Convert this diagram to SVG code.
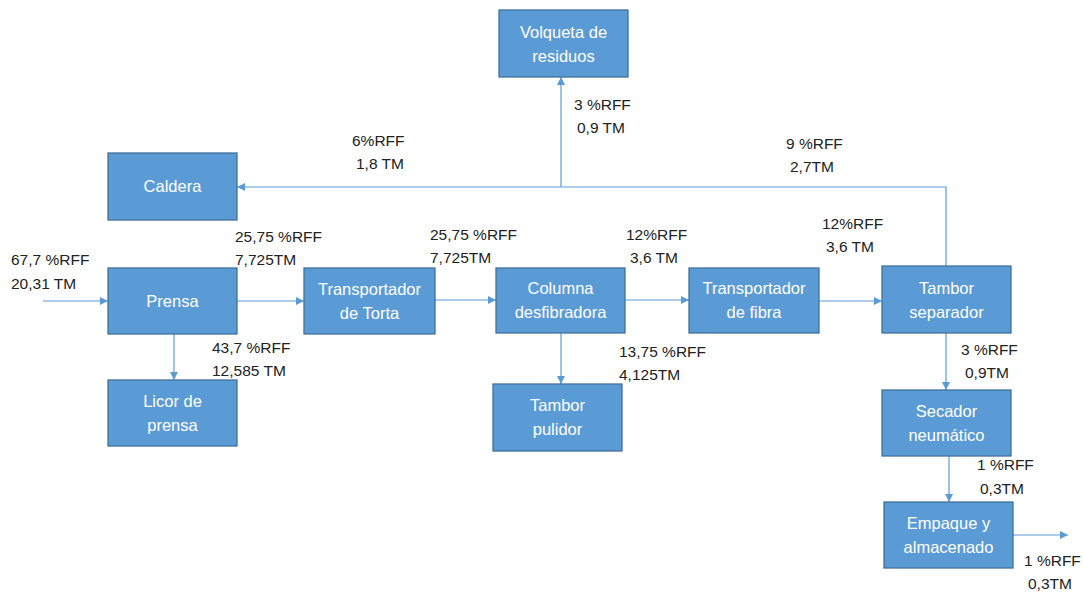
<svg xmlns="http://www.w3.org/2000/svg" width="1083" height="595" viewBox="0 0 1083 595">
<defs>
<style>
.box{fill:#5B9BD5;stroke:#41719C;stroke-width:1.3}
.bt{font-family:"Liberation Sans",Arial,sans-serif;font-size:16.5px;fill:#FFFFFF;text-anchor:middle}
.lb{font-family:"Liberation Sans",Arial,sans-serif;font-size:15.5px;fill:#222222}
.cn{fill:none;stroke:#5B9BD5;stroke-width:1.2}
</style>
<marker id="ah" viewBox="0 0 10 10" refX="10" refY="5" markerWidth="8" markerHeight="8" markerUnits="userSpaceOnUse" orient="auto">
<path d="M0,0 L10,5 L0,10 z" fill="#5B9BD5"/>
</marker>
</defs>
<rect width="1083" height="595" fill="#FFFFFF"/>
<g id="connectors">
<line class="cn" x1="43" y1="301" x2="108" y2="301" marker-end="url(#ah)"/>
<line class="cn" x1="237" y1="301" x2="304" y2="301" marker-end="url(#ah)"/>
<line class="cn" x1="435" y1="300" x2="496" y2="300" marker-end="url(#ah)"/>
<line class="cn" x1="625" y1="300" x2="689" y2="300" marker-end="url(#ah)"/>
<line class="cn" x1="819" y1="301" x2="882" y2="301" marker-end="url(#ah)"/>
<line class="cn" x1="174" y1="334" x2="174" y2="380" marker-end="url(#ah)"/>
<line class="cn" x1="561" y1="333" x2="561" y2="384" marker-end="url(#ah)"/>
<polyline class="cn" points="946,266 946,187 237,187" marker-end="url(#ah)"/>
<line class="cn" x1="561" y1="187" x2="561" y2="77" marker-end="url(#ah)"/>
<line class="cn" x1="946" y1="333" x2="946" y2="390" marker-end="url(#ah)"/>
<line class="cn" x1="949" y1="456" x2="949" y2="502" marker-end="url(#ah)"/>
<line class="cn" x1="1013" y1="535" x2="1068" y2="535" marker-end="url(#ah)"/>
</g>
<g id="volqueta"><rect class="box" x="499" y="10" width="129" height="67"/><text class="bt" x="563.5" y="38">Volqueta de</text><text class="bt" x="563.5" y="62">residuos</text></g>
<g id="caldera"><rect class="box" x="108" y="153" width="129" height="67"/><text class="bt" x="172.5" y="192">Caldera</text></g>
<g id="prensa"><rect class="box" x="108" y="268" width="129" height="66"/><text class="bt" x="172.5" y="307">Prensa</text></g>
<g id="transp-torta"><rect class="box" x="304" y="268" width="131" height="66"/><text class="bt" x="369.5" y="295">Transportador</text><text class="bt" x="369.5" y="319">de Torta</text></g>
<g id="licor"><rect class="box" x="108" y="380" width="129" height="66"/><text class="bt" x="172.5" y="407">Licor de</text><text class="bt" x="172.5" y="431">prensa</text></g>
<g id="columna"><rect class="box" x="496" y="268" width="129" height="65"/><text class="bt" x="560.5" y="294">Columna</text><text class="bt" x="560.5" y="318">desfibradora</text></g>
<g id="transp-fibra"><rect class="box" x="689" y="268" width="130" height="65"/><text class="bt" x="754" y="294">Transportador</text><text class="bt" x="754" y="318">de fibra</text></g>
<g id="tambor-pulidor"><rect class="box" x="493" y="384" width="129" height="67"/><text class="bt" x="557.5" y="411">Tambor</text><text class="bt" x="557.5" y="435">pulidor</text></g>
<g id="tambor-separador"><rect class="box" x="882" y="266" width="129" height="67"/><text class="bt" x="946.5" y="294">Tambor</text><text class="bt" x="946.5" y="318">separador</text></g>
<g id="secador"><rect class="box" x="882" y="390" width="129" height="66"/><text class="bt" x="946.5" y="417">Secador</text><text class="bt" x="946.5" y="441">neumático</text></g>
<g id="empaque"><rect class="box" x="884" y="502" width="129" height="66"/><text class="bt" x="948.5" y="529">Empaque y</text><text class="bt" x="948.5" y="553">almacenado</text></g>
<g id="labels">
<text class="lb" x="11" y="265">67,7 %RFF</text><text class="lb" x="11" y="289">20,31 TM</text>
<text class="lb" x="235" y="242">25,75 %RFF</text><text class="lb" x="235" y="265">7,725TM</text>
<text class="lb" x="212" y="353">43,7 %RFF</text><text class="lb" x="212" y="376">12,585 TM</text>
<text class="lb" x="430" y="240">25,75 %RFF</text><text class="lb" x="430" y="263">7,725TM</text>
<text class="lb" x="626" y="240">12%RFF</text><text class="lb" x="630" y="263">3,6 TM</text>
<text class="lb" x="619" y="357">13,75 %RFF</text><text class="lb" x="619" y="380">4,125TM</text>
<text class="lb" x="822" y="229">12%RFF</text><text class="lb" x="826" y="252">3,6 TM</text>
<text class="lb" x="352" y="146">6%RFF</text><text class="lb" x="356" y="169">1,8 TM</text>
<text class="lb" x="574" y="110">3 %RFF</text><text class="lb" x="577" y="133">0,9 TM</text>
<text class="lb" x="786" y="149">9 %RFF</text><text class="lb" x="790" y="172">2,7TM</text>
<text class="lb" x="961" y="355">3 %RFF</text><text class="lb" x="965" y="378">0,9TM</text>
<text class="lb" x="977" y="470">1 %RFF</text><text class="lb" x="980" y="494">0,3TM</text>
<text class="lb" x="1024" y="566">1 %RFF</text><text class="lb" x="1028" y="589">0,3TM</text>
</g>
</svg>
